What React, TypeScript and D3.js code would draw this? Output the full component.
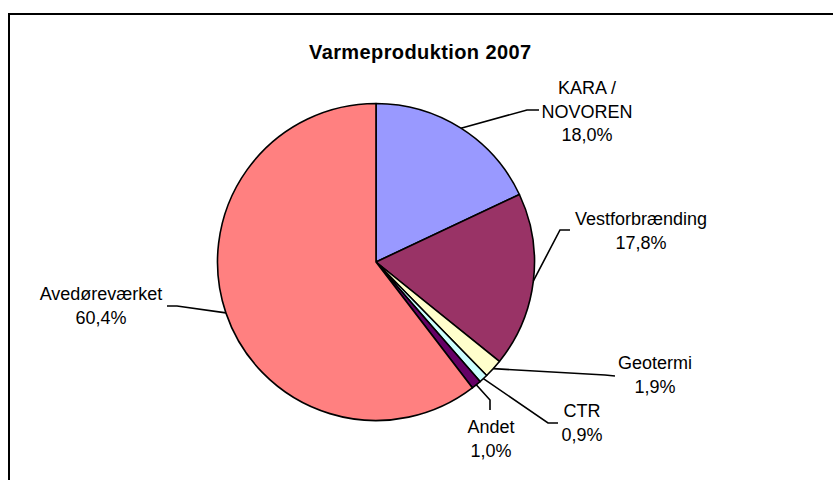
import { useEffect, useRef } from "react";
import * as d3 from "d3";

const categories = ["KARA /\nNOVOREN", "Vestforbrænding", "Geotermi", "CTR", "Andet", "Avedøreværket"];
const shares = [18.0, 17.8, 1.9, 0.9, 1.0, 60.4];
const shareLabels = ["18,0%", "17,8%", "1,9%", "0,9%", "1,0%", "60,4%"];
const colors = ["#9999FF", "#993366", "#FFFFCC", "#CCFFFF", "#660066", "#FF8080"];

// label layout: text centre, first baseline, leader bend and end
const labelLayout = [
  { x: 587, y: 94, bend: [527, 110], end: [539, 110] },
  { x: 641, y: 225, bend: [560, 230], end: [570, 230] },
  { x: 655, y: 369, bend: [605, 375], end: [615, 376] },
  { x: 582, y: 417, bend: [548, 423], end: [558, 423] },
  { x: 491, y: 433, bend: [490, 400], end: [490, 410] },
  { x: 101, y: 300, bend: [177, 306], end: [167, 306] },
];

const W = 833;
const H = 480;
const FONT = "'Liberation Sans', Arial, sans-serif";

export default function App() {
  const svgRef = useRef<SVGSVGElement>(null);

  useEffect(() => {
    if (!svgRef.current) return;
    const svg = d3.select(svgRef.current);
    svg.selectAll("*").remove();

    svg.append("rect").attr("width", W).attr("height", H).attr("fill", "#fff");

    // chart area border (runs off the right/bottom edge)
    svg
      .append("rect")
      .attr("x", 9)
      .attr("y", 14)
      .attr("width", 900)
      .attr("height", 600)
      .attr("fill", "none")
      .attr("stroke", "#000")
      .attr("stroke-width", 2);

    svg
      .append("text")
      .attr("x", 309)
      .attr("y", 59)
      .attr("font-family", FONT)
      .attr("font-size", "20px")
      .attr("font-weight", "bold")
      .attr("letter-spacing", "0.4px")
      .attr("fill", "#000")
      .text("Varmeproduktion 2007");

    const cx = 376;
    const cy = 262;
    const r = 158.5;

    const pie = d3
      .pie<number>()
      .sort(null)
      .value((d) => d);
    const arcs = pie(shares);
    const arc = d3.arc<d3.PieArcDatum<number>>().innerRadius(0).outerRadius(r);
    const edge = d3.arc<d3.PieArcDatum<number>>().innerRadius(r).outerRadius(r);

    const g = svg.append("g").attr("transform", `translate(${cx},${cy})`);

    g.selectAll("path.slice")
      .data(arcs)
      .join("path")
      .attr("class", "slice")
      .attr("d", (d) => arc(d) ?? "")
      .attr("fill", (_, i) => colors[i])
      .attr("stroke", "#000")
      .attr("stroke-width", 1.6)
      .attr("stroke-linejoin", "round");

    // leader lines
    arcs.forEach((d, i) => {
      const [px, py] = edge.centroid(d);
      const L = labelLayout[i];
      const line = d3.line();
      svg
        .append("path")
        .attr(
          "d",
          line([
            [cx + px, cy + py],
            L.bend as [number, number],
            L.end as [number, number],
          ]) ?? ""
        )
        .attr("fill", "none")
        .attr("stroke", "#000")
        .attr("stroke-width", 1.6);
    });

    // labels
    categories.forEach((name, i) => {
      const L = labelLayout[i];
      const lines = [...name.split("\n"), shareLabels[i]];
      const t = svg
        .append("text")
        .attr("font-family", FONT)
        .attr("font-size", "18px")
        .attr("fill", "#000")
        .attr("text-anchor", "middle");
      lines.forEach((s, j) => {
        t.append("tspan")
          .attr("x", L.x)
          .attr("y", L.y + j * 23.7)
          .text(s);
      });
    });
  }, []);

  return (
    <svg
      ref={svgRef}
      width={W}
      height={H}
      style={{ position: "absolute", left: 0, top: 0, display: "block" }}
    />
  );
}
